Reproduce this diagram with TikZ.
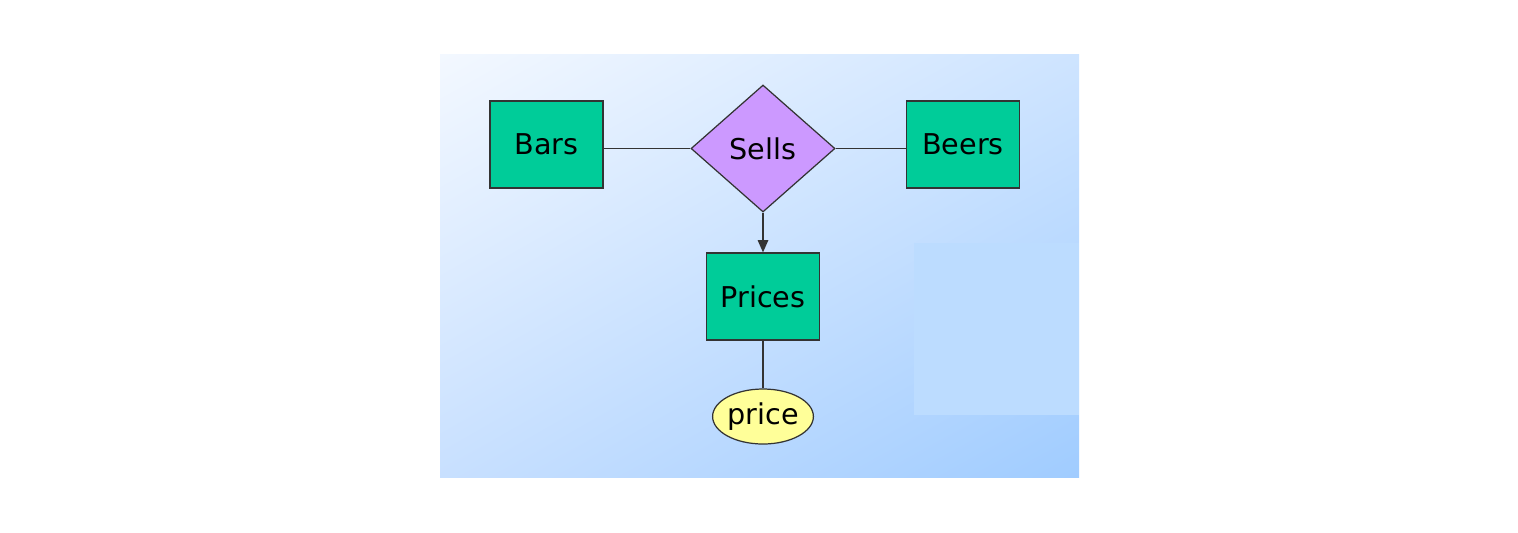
\documentclass[tikz,border=0pt]{standalone}
\usepackage{fontspec}
\setmainfont{DejaVu Sans}
\usetikzlibrary{shapes.geometric,arrows.meta,shadings}
\definecolor{ent}{HTML}{00CC99}
\definecolor{rel}{HTML}{CC99FF}
\definecolor{attr}{HTML}{FFFF99}
\definecolor{edge}{HTML}{333333}
\definecolor{bgul}{RGB}{243,248,255}
\definecolor{bgur}{RGB}{206,228,255}
\definecolor{bgll}{RGB}{200,224,255}
\definecolor{bglr}{RGB}{160,204,255}
\definecolor{panel}{RGB}{188,220,255}
\begin{document}
\begin{tikzpicture}[x=0.02cm,y=-0.02cm,
  lbl/.style={font=\fontsize{16.3}{19}\selectfont},
  entity/.style={lbl,draw=edge,fill=ent,line width=0.7pt,minimum width=113*0.02cm,minimum height=87*0.02cm,inner sep=0pt},
  relation/.style={lbl,draw=edge,fill=rel,line width=0.7pt,diamond,aspect=1.134,minimum width=144*0.02cm,minimum height=127*0.02cm,inner sep=0pt},
  attribute/.style={lbl,draw=edge,fill=attr,line width=0.7pt,ellipse,minimum width=97*0.02cm,minimum height=55*0.02cm,inner sep=0pt},
  conn/.style={draw=edge,line width=0.7pt}]
\useasboundingbox (0,0) rectangle (1518,532);
\fill[white] (0,0) rectangle (1518,532);
\shade[upper left=bgul,upper right=bgur,lower left=bgll,lower right=bglr]
  (440,54) rectangle (1079,477);
\fill[panel] (914,243) rectangle (1079,415);
\node[entity] (bars) at (546.5,144.5) {Bars};
\node[entity] (beers) at (963,144.5) {Beers};
\node[relation] (sells) at (763,148.5) {Sells};
\node[entity] (prices) at (763,296.5) {Prices};
\node[attribute] (price) at (763,416.5) {price};
\draw[conn] (bars.east |- sells.west) -- (sells.west);
\draw[conn] (sells.east) -- (beers.west |- sells.east);
\draw[conn,-{Triangle[length=7pt,width=6pt]}] (sells.south) -- (prices.north);
\draw[conn] (prices.south) -- (price.north);
\end{tikzpicture}
\end{document}
